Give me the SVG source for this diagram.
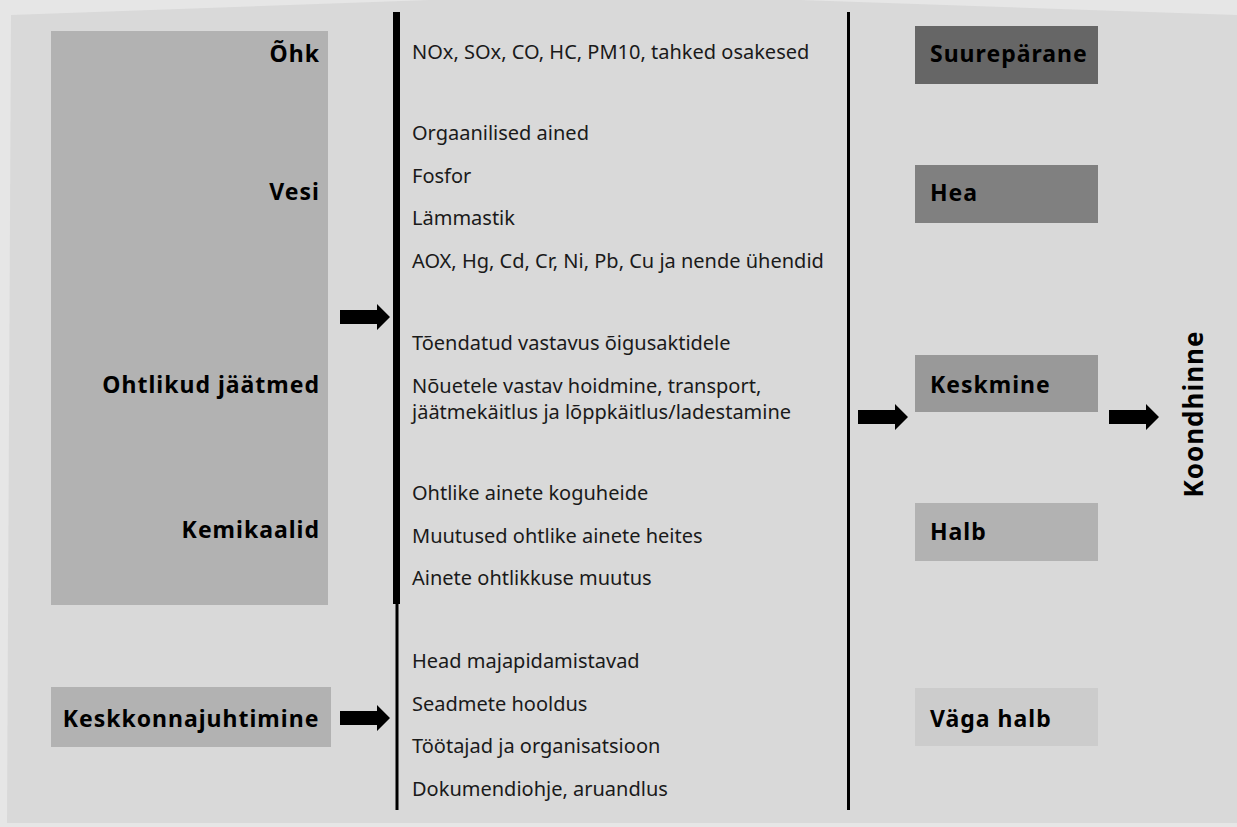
<svg xmlns="http://www.w3.org/2000/svg" width="1237" height="827" viewBox="0 0 1237 827">
<defs>
<style>
.t{font-family:"Noto Sans","Open Sans","Liberation Sans",sans-serif;font-size:20px;fill:#1a1a1a}
.b{font-family:"Noto Sans","Open Sans","Liberation Sans",sans-serif;font-size:23px;letter-spacing:1px;font-weight:bold;fill:#000}
.k{font-size:26px}
.arr{fill:#000}
</style>
<path id="arrow" d="M0,-7 H37 V-13 L50,0 L37,13 V7 H0 Z"/>
</defs>
<rect width="1237" height="827" fill="#e6e6e6"/>
<polygon points="11,15 430,0 800,0 1237,15 1237,823 7,823" fill="#d9d9d9"/>

<g id="left-box">
<rect x="51" y="31" width="277" height="574" fill="#b2b2b2"/>
<text class="b" x="320" y="62" text-anchor="end">Õhk</text>
<text class="b" x="320" y="200" text-anchor="end">Vesi</text>
<text class="b" x="320" y="393" text-anchor="end">Ohtlikud jäätmed</text>
<text class="b" x="320" y="538" text-anchor="end">Kemikaalid</text>
</g>

<g id="keskkonnajuhtimine">
<rect x="51" y="687" width="280" height="60" fill="#b2b2b2"/>
<text class="b" x="191" y="727" text-anchor="middle">Keskkonnajuhtimine</text>
</g>

<g id="middle-list">
<text class="t" x="412" y="59">NOx, SOx, CO, HC, PM10, tahked osakesed</text>
<text class="t" x="412" y="140">Orgaanilised ained</text>
<text class="t" x="412" y="183">Fosfor</text>
<text class="t" x="412" y="225">Lämmastik</text>
<text class="t" x="412" y="268">AOX, Hg, Cd, Cr, Ni, Pb, Cu ja nende ühendid</text>
<text class="t" x="412" y="350">Tõendatud vastavus õigusaktidele</text>
<text class="t" x="412" y="393">Nõuetele vastav hoidmine, transport,</text>
<text class="t" x="412" y="419">jäätmekäitlus ja lõppkäitlus/ladestamine</text>
<text class="t" x="412" y="500">Ohtlike ainete koguheide</text>
<text class="t" x="412" y="543">Muutused ohtlike ainete heites</text>
<text class="t" x="412" y="585">Ainete ohtlikkuse muutus</text>
<text class="t" x="412" y="668">Head majapidamistavad</text>
<text class="t" x="412" y="711">Seadmete hooldus</text>
<text class="t" x="412" y="753">Töötajad ja organisatsioon</text>
<text class="t" x="412" y="796">Dokumendiohje, aruandlus</text>
</g>

<g id="grades">
<g id="suureparane"><rect x="915" y="26" width="183" height="58" fill="#666666"/><text class="b" x="930" y="62">Suurepärane</text></g>
<g id="hea"><rect x="915" y="165" width="183" height="58" fill="#808080"/><text class="b" x="930" y="201">Hea</text></g>
<g id="keskmine"><rect x="915" y="355" width="183" height="57" fill="#999999"/><text class="b" x="930" y="393">Keskmine</text></g>
<g id="halb"><rect x="915" y="503" width="183" height="58" fill="#b2b2b2"/><text class="b" x="930" y="540">Halb</text></g>
<g id="vaga-halb"><rect x="915" y="688" width="183" height="58" fill="#cccccc"/><text class="b" x="930" y="727">Väga halb</text></g>
</g>

<g id="koondhinne">
<text class="b k" transform="translate(1203,414) rotate(-90)" text-anchor="middle">Koondhinne</text>
</g>

<g id="connectors">
<rect x="393" y="12" width="7" height="592" fill="#000"/>
<rect x="395.5" y="600" width="3" height="210" fill="#000"/>
<rect x="847" y="12" width="3" height="798" fill="#000"/>
<use href="#arrow" x="340" y="317" class="arr"/>
<use href="#arrow" x="340" y="718" class="arr"/>
<use href="#arrow" x="858" y="417" class="arr"/>
<use href="#arrow" x="1109" y="417" class="arr"/>
</g>
</svg>
